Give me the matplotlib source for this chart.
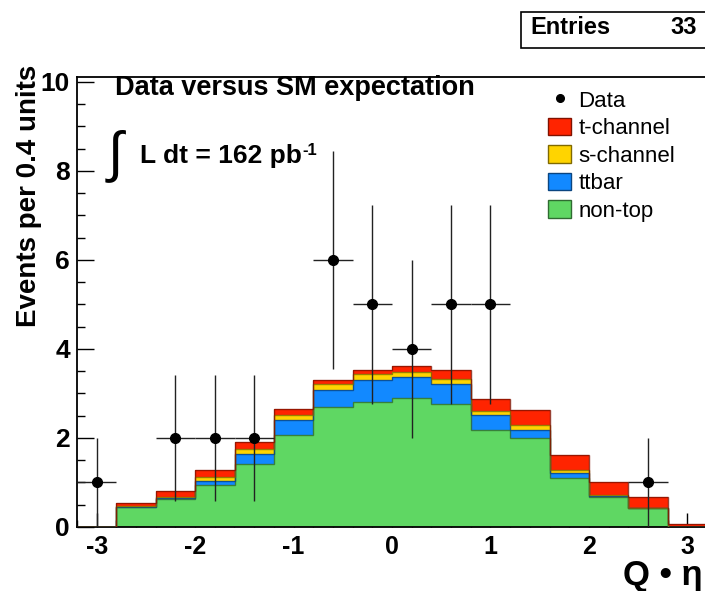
import numpy as np
import matplotlib
matplotlib.use("Agg")
import matplotlib.pyplot as plt
from matplotlib.patches import Patch, Rectangle
from matplotlib.lines import Line2D
from matplotlib.ticker import MultipleLocator

plt.rcParams['font.family'] = ['Liberation Sans', 'DejaVu Sans']
plt.rcParams['axes.unicode_minus'] = False

# Q*eta histogram, 16 bins of width 0.4
bin_edges = np.round(np.linspace(-3.2, 3.2, 17), 1)
non_top = [0.00, 0.44, 0.62, 0.94, 1.41, 2.06, 2.69, 2.80, 2.89, 2.76, 2.19, 1.99, 1.11, 0.68, 0.42, 0.01]
ttbar = [0.00, 0.02, 0.04, 0.10, 0.23, 0.34, 0.39, 0.50, 0.47, 0.45, 0.33, 0.20, 0.11, 0.02, 0.01, 0.00]
s_channel = [0.00, 0.01, 0.02, 0.09, 0.11, 0.12, 0.13, 0.13, 0.12, 0.11, 0.09, 0.10, 0.06, 0.01, 0.00, 0.00]
t_channel = [0.00, 0.08, 0.12, 0.14, 0.17, 0.12, 0.09, 0.10, 0.14, 0.21, 0.26, 0.34, 0.34, 0.29, 0.25, 0.05]
data_counts = [1, 0, 2, 2, 2, 0, 6, 5, 4, 5, 5, 0, 0, 0, 1, 0]

n_entries = int(sum(data_counts))

fig = plt.figure(figsize=(7.05, 5.91), dpi=100)
ax = fig.add_axes([77 / 705, 64 / 591, 630 / 705, 450 / 591])

# stack: non-top, ttbar, s-channel, t-channel
layers = [
    (non_top, '#5fd763', '#2f6b31', 'non-top'),
    (ttbar, '#1289ff', '#0b4580', 'ttbar'),
    (s_channel, '#ffd400', '#806a00', 's-channel'),
    (t_channel, '#ff2400', '#801200', 't-channel'),
]
base = np.zeros(len(non_top))
for vals, fc, ec, lab in layers:
    top = base + np.array(vals)
    ax.stairs(top, bin_edges, baseline=base, fill=True, color=fc, lw=0, zorder=2)
    base = top
# outlines of each cumulative histogram
base = np.zeros(len(non_top))
for vals, fc, ec, lab in layers:
    base = base + np.array(vals)
    ax.stairs(base, bin_edges, baseline=0, fill=False, color=ec, lw=1.0, alpha=0.8, zorder=3)

# data points with sqrt(N) errors
centers = 0.5 * (bin_edges[:-1] + bin_edges[1:])
counts = np.array(data_counts, dtype=float)
sel = counts > 0
ax.errorbar(centers[sel], counts[sel], yerr=np.sqrt(counts[sel]), xerr=0.2,
            fmt='o', color='black', ms=7, elinewidth=1.0, ecolor='#222222', capsize=0, zorder=5)

ax.set_xlim(-3.2, 3.2)
ax.set_ylim(0, 10.11)
ax.xaxis.set_major_locator(MultipleLocator(1))
ax.xaxis.set_minor_locator(MultipleLocator(0.2))
ax.yaxis.set_major_locator(MultipleLocator(2))
ax.yaxis.set_minor_locator(MultipleLocator(0.5))
ax.tick_params(which='both', direction='in', top=False, right=False, width=1.0)
ax.tick_params(axis='x', which='major', length=10, labelsize=18, pad=6)
ax.tick_params(axis='x', which='minor', length=5)
ax.tick_params(axis='y', which='major', length=12, labelsize=19, pad=5)
ax.tick_params(axis='y', which='minor', length=6)
for lbl in ax.get_xticklabels() + ax.get_yticklabels():
    lbl.set_fontweight('bold')
for sp in ax.spines.values():
    sp.set_linewidth(1.3)

ax.set_ylabel('Events per 0.4 units', fontsize=20, fontweight='bold', loc='top')
ax.yaxis.set_label_coords(-35 / 630, 1 + 12 / 450)
ax.set_xlabel('Q • η', fontsize=25, fontweight='bold', loc='right')
ax.xaxis.set_label_coords(626 / 630, -32 / 450)

fig.text(115 / 705, 1 - 88 / 591, 'Data versus SM expectation', fontsize=19.5, fontweight='bold',
         va='center', ha='left')
fig.text(108 / 705, 1 - 156 / 591, '∫', fontsize=40, va='center', ha='left')
lumi = fig.text(140 / 705, 1 - 163 / 591, 'L dt = 162 pb', fontsize=19, fontweight='bold',
                va='baseline', ha='left')
ax.annotate('-1', xy=(1, 1), xycoords=lumi, xytext=(0.5, 1), textcoords='offset points',
            fontsize=12, fontweight='bold', va='top', ha='left', annotation_clip=False)

handles = [
    Line2D([], [], marker='o', color='black', ls='none', ms=5.5),
    Patch(facecolor='#ff2400', edgecolor='#801200'),
    Patch(facecolor='#ffd400', edgecolor='#806a00'),
    Patch(facecolor='#1289ff', edgecolor='#0b4580'),
    Patch(facecolor='#5fd763', edgecolor='#2f6b31'),
]
labels = ['Data', 't-channel', 's-channel', 'ttbar', 'non-top']
fig.legend(handles, labels, loc='upper left', bbox_to_anchor=(548 / 705, 1 - 90 / 591),
           frameon=False, fontsize=16, handlelength=1.04, handleheight=0.85,
           handletextpad=0.32, labelspacing=0.27, borderpad=0, borderaxespad=0)

# statistics box
fig.patches.append(Rectangle((521 / 705, 1 - 48 / 591), 0.3, 36 / 591, transform=fig.transFigure,
                             facecolor='white', edgecolor='black', lw=1.2))
fig.text(530 / 705, 1 - 28 / 591, 'Entries', fontsize=17, fontweight='bold', va='center', ha='left')
fig.text(697 / 705, 1 - 28 / 591, str(n_entries), fontsize=17, fontweight='bold', va='center', ha='right')

fig.savefig('out.png', dpi=100)
